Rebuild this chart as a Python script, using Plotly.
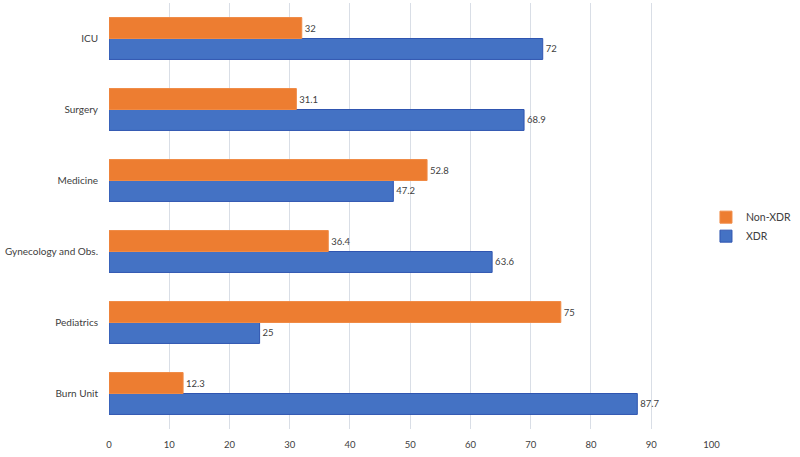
import plotly.graph_objects as go

# categories listed bottom to top
wards = ["Burn Unit", "Pediatrics", "Gynecology and Obs.", "Medicine", "Surgery", "ICU"]
xdr = [87.7, 25, 63.6, 47.2, 68.9, 72]
non_xdr = [12.3, 75, 36.4, 52.8, 31.1, 32]

fig = go.Figure()
fig.add_trace(go.Bar(
    y=wards, x=xdr, orientation="h", name="XDR",
    marker=dict(color="#4472C4", line=dict(color="#2F55B0", width=1)),
    text=xdr, textposition="outside", cliponaxis=False,
    textfont=dict(size=9.5, color="#404040"),
))
fig.add_trace(go.Bar(
    y=wards, x=non_xdr, orientation="h", name="Non-XDR",
    marker=dict(color="#ED7D31", line=dict(color="#F08A45", width=1)),
    text=non_xdr, textposition="outside", cliponaxis=False,
    textfont=dict(size=9.5, color="#404040"),
))

fig.update_layout(
    width=800, height=457,
    barmode="group", bargap=0.41, bargroupgap=0,
    plot_bgcolor="white", paper_bgcolor="white",
    font=dict(family="Lato", size=10, color="#404040"),
    margin=dict(l=109, r=88, t=3, b=28, autoexpand=False),
    legend=dict(traceorder="reversed", x=0.99, y=0.475, yanchor="middle",
                xanchor="left", bgcolor="rgba(0,0,0,0)",
                font=dict(size=10.5, color="#404040"), itemwidth=30,
                tracegroupgap=0),
    showlegend=True,
)
fig.update_xaxes(range=[0, 100.1], dtick=10, showgrid=True, gridcolor="#D9DEE6",
                 gridwidth=1, zeroline=False, showline=False, ticks="",
                 tickfont=dict(size=9.5), ticklabelstandoff=8, automargin=False)
fig.update_yaxes(showgrid=False, zeroline=False, showline=False, ticks="",
                 tickfont=dict(size=10), ticklabelstandoff=10, automargin=False)

# drop the page's default body margin so the figure sits at the window's corner
fig.write_html("out.html", config={"displayModeBar": False},
               post_script="document.body.style.margin='0';")
